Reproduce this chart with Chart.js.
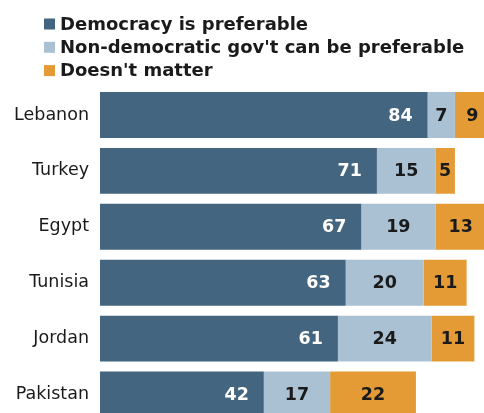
<!DOCTYPE html>
<html>
<head>
<meta charset="utf-8">
<script src="https://cdn.jsdelivr.net/npm/chart.js@4/dist/chart.umd.min.js"></script>
<style>
  html, body { margin: 0; padding: 0; background: #fff; overflow: hidden; }
  #wrap { position: absolute; left: 0; top: 0; width: 484px; height: 444px; }
</style>
</head>
<body>
<div id="wrap"><canvas id="chart" width="484" height="444"></canvas></div>
<script>
// data
const countries = ['Lebanon', 'Turkey', 'Egypt', 'Tunisia', 'Jordan', 'Pakistan'];
const democracy = [84, 71, 67, 63, 61, 42];
const nonDemocratic = [7, 15, 19, 20, 24, 17];
const doesntMatter = [9, 5, 13, 11, 11, 22];
const seriesNames = ['Democracy is preferable', "Non-democratic gov't can be preferable", "Doesn't matter"];
const seriesColors = ['#43657f', '#a9c1d3', '#e49b36'];
const labelColors = ['#ffffff', '#1a1a1a', '#1a1a1a'];

const FONT = '"DejaVu Sans", Verdana, sans-serif';

// legend drawn at top-left, one item per row
const legendPlugin = {
    id: 'stackLegend',
    afterDraw(chart) {
        const ctx = chart.ctx;
        ctx.save();
        ctx.font = 'bold 18px ' + FONT;
        ctx.textBaseline = 'middle';
        ctx.textAlign = 'left';
        chart.data.datasets.forEach((ds, i) => {
            const y = 24 + i * 23.3;
            ctx.fillStyle = ds.backgroundColor;
            ctx.fillRect(44, y - 5.5, 11, 11);
            ctx.fillStyle = '#1a1a1a';
            ctx.fillText(ds.label, 60, y + 1);
        });
        ctx.restore();
    }
};

// value labels: dark segment right-aligned, others centred
const valuePlugin = {
    id: 'valueLabels',
    afterDatasetsDraw(chart) {
        const ctx = chart.ctx;
        ctx.save();
        ctx.font = 'bold 17.5px ' + FONT;
        ctx.textBaseline = 'middle';
        chart.data.datasets.forEach((ds, i) => {
            const meta = chart.getDatasetMeta(i);
            meta.data.forEach((bar, j) => {
                ctx.fillStyle = labelColors[i];
                if (i === 0) {
                    ctx.textAlign = 'right';
                    ctx.fillText(ds.data[j], bar.x - 15, bar.y + 1);
                } else {
                    ctx.textAlign = 'center';
                    ctx.fillText(ds.data[j], (bar.base + bar.x) / 2, bar.y + 1);
                }
            });
        });
        ctx.restore();
    }
};

const datasets = [democracy, nonDemocratic, doesntMatter].map((values, i) => ({
    label: seriesNames[i],
    data: values,
    backgroundColor: seriesColors[i],
    borderWidth: 0,
    barPercentage: 0.82,
    categoryPercentage: 1
}));

// canvas is taller than the window on purpose: the last bar runs off the bottom edge
new Chart(document.getElementById('chart'), {
    type: 'bar',
    data: { labels: countries, datasets: datasets },
    options: {
        indexAxis: 'y',
        responsive: false,
        animation: false,
        layout: { padding: { top: 87, left: 0, right: 0, bottom: 0 } },
        plugins: {
            legend: { display: false },
            tooltip: { enabled: false }
        },
        scales: {
            x: {
                stacked: true,
                display: false,
                min: 0,
                max: 98.46
            },
            y: {
                stacked: true,
                grid: { display: false, drawTicks: false },
                border: { display: false },
                afterFit(scale) { scale.width = 100; },
                ticks: {
                    color: '#1a1a1a',
                    padding: 11,
                    font: { family: FONT, size: 17.5 }
                }
            }
        }
    },
    plugins: [legendPlugin, valuePlugin]
});
</script>
</body>
</html>
